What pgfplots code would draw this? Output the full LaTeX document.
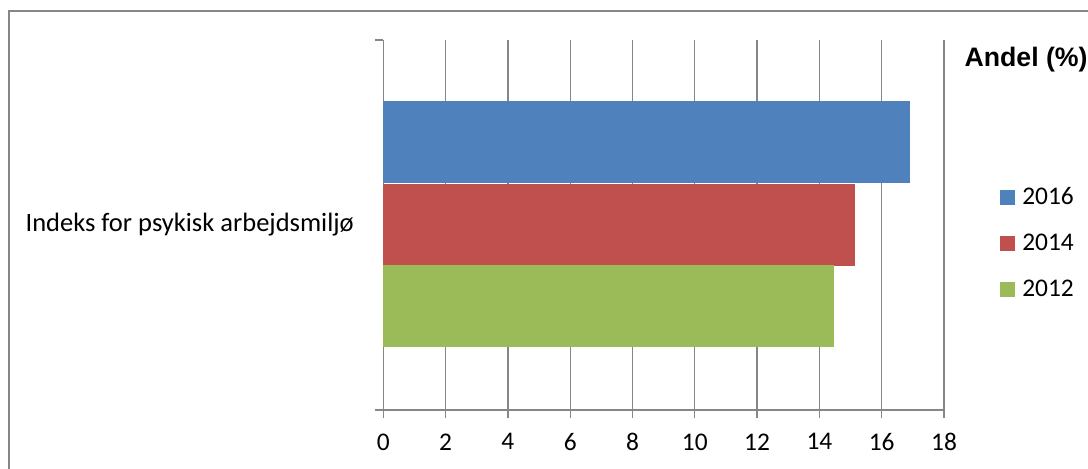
\documentclass[border=0pt]{standalone}
\usepackage{pgfplots}
\pgfplotsset{compat=1.18}
\usepackage{fontspec}
\setmainfont{Carlito}
\newfontfamily\arial{Liberation Sans}
\definecolor{c2016}{HTML}{4F81BD}
\definecolor{c2014}{HTML}{C0504D}
\definecolor{c2012}{HTML}{9BBB59}
\definecolor{gridgray}{HTML}{868686}
\begin{document}
\begin{tikzpicture}
\useasboundingbox (0,0) rectangle (1088bp,469bp);
\draw[gridgray, line width=1.5bp] (9bp,-20bp) -- (9bp,458bp) -- (1100bp,458bp);
\begin{axis}[
    at={(383.3bp,59bp)}, anchor=origin,
    scale only axis, width=560.7bp, height=370bp,
    xmin=0, xmax=18, ymin=59, ymax=429,
    xtick={0,2,...,18},
    ytick={59,429}, yticklabels={},
    axis x line*=bottom, axis y line*=left,
    axis line style={gridgray, line width=1.3bp, shorten <=-8bp},
    xmajorgrids, grid style={gridgray, line width=1.3bp},
    tick align=outside, major tick length=8bp,
    tick style={gridgray, line width=1.3bp},
    x tick label style={font=\fontsize{25.5}{25.5}\selectfont, yshift=-12bp},
    /pgf/number format/assume math mode=true,
    xbar, bar shift=0pt, bar width=82,
    clip=false,
    legend style={draw=none, fill=none, at={(1.1,0.4514)}, anchor=west,
        inner sep=0pt, font=\fontsize{25.5}{25.5}\selectfont,
        nodes={inner sep=0pt}, row sep=28bp},
    legend cell align=left,
    legend image code/.code={\fill[#1] (0bp,-7.5bp) rectangle (15bp,7.5bp); \path (22bp,0bp);},
]
\addplot[draw=none, fill=c2016] coordinates {(16.91,326.5)};
\addlegendentry{2016}
\addplot[draw=none, fill=c2014] coordinates {(15.14,244)};
\addlegendentry{2014}
\addplot[draw=none, fill=c2012] coordinates {(14.47,162.5)};
\addlegendentry{2012}
\node[anchor=east, font=\fontsize{26.6}{26.6}\selectfont] at (axis cs:0,244) [xshift=-26bp] {Indeks for psykisk arbejdsmiljø};
\node[anchor=west, font=\arial\bfseries\fontsize{26.8}{26.8}\selectfont] at (rel axis cs:1,1) [xshift=17bp, yshift=-20bp] {Andel (\%)};
\end{axis}
\end{tikzpicture}
\end{document}
